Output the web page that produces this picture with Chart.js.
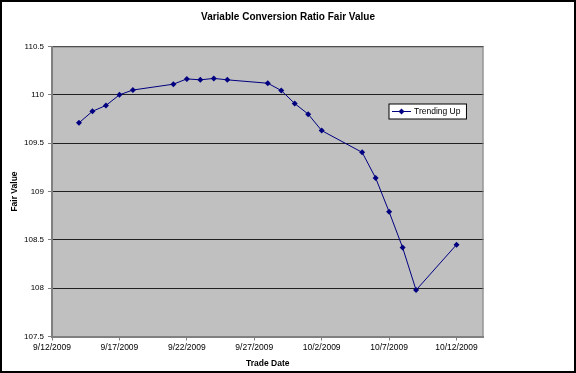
<!DOCTYPE html>
<html>
<head>
<meta charset="utf-8">
<script src="https://cdn.jsdelivr.net/npm/chart.js@4.4.0/dist/chart.umd.min.js"></script>
<style>
  html, body { margin: 0; padding: 0; background: #fff; }
</style>
</head>
<body>
<canvas id="chart" width="576" height="373"></canvas>
<script>
// values
const tradeDates = ['9/14/2009', '9/15/2009', '9/16/2009', '9/17/2009', '9/18/2009',
  '9/21/2009', '9/22/2009', '9/23/2009', '9/24/2009', '9/25/2009',
  '9/28/2009', '9/29/2009', '9/30/2009', '10/1/2009', '10/2/2009',
  '10/5/2009', '10/6/2009', '10/7/2009', '10/8/2009', '10/9/2009', '10/12/2009'];
const fairValues = [109.71, 109.83, 109.89, 110.0, 110.05,
  110.11, 110.165, 110.155, 110.17, 110.155,
  110.12, 110.045, 109.91, 109.8, 109.63,
  109.405, 109.14, 108.79, 108.42, 107.98, 108.45];
const seriesName = 'Trending Up';
const axisStart = '9/12/2009';
const axisEnd = '10/14/2009';
const yMin = 107.5, yMax = 110.5, yStep = 0.5;

const DAY = 86400000;
const FONT = '"Liberation Sans", Arial, sans-serif';
function toUtc(s) {
  const [m, d, y] = s.split('/').map(Number);
  return Date.UTC(y, m - 1, d);
}
const base = toUtc(axisStart);
function dayOffset(s) { return Math.round((toUtc(s) - base) / DAY); }
function fmtDay(v) {
  const d = new Date(base + v * DAY);
  return (d.getUTCMonth() + 1) + '/' + d.getUTCDate() + '/' + d.getUTCFullYear();
}

const points = tradeDates.map((d, i) => ({ x: dayOffset(d), y: fairValues[i] }));

const plotBg = {
  id: 'plotBg',
  beforeDraw(chart) {
    const { ctx, chartArea: a } = chart;
    ctx.save();
    ctx.fillStyle = '#ffffff';
    ctx.fillRect(0, 0, chart.width, chart.height);
    ctx.fillStyle = '#c0c0c0';
    ctx.fillRect(a.left, a.top, a.right - a.left, a.bottom - a.top);
    ctx.restore();
  },
  afterDraw(chart) {
    const { ctx, chartArea: a } = chart;
    ctx.save();
    // plot frame (top + right)
    ctx.strokeStyle = '#808080';
    ctx.lineWidth = 1;
    ctx.beginPath();
    ctx.moveTo(a.left, a.top + 0.5);
    ctx.lineTo(a.right - 0.5, a.top + 0.5);
    ctx.lineTo(a.right - 0.5, a.bottom);
    ctx.stroke();

    // legend box
    const ds = chart.data.datasets[0];
    ctx.font = '8.5px ' + FONT;
    const tw = ctx.measureText(ds.label).width;
    const lx = a.right - 94.5, ly = a.top + 57.5;
    const lw = 26 + tw + 5, lh = 15;
    ctx.fillStyle = '#ffffff';
    ctx.fillRect(lx, ly, lw, lh);
    ctx.strokeStyle = '#000000';
    ctx.strokeRect(lx, ly, lw, lh);
    ctx.strokeStyle = ds.borderColor;
    ctx.beginPath();
    ctx.moveTo(lx + 3, ly + lh / 2);
    ctx.lineTo(lx + 22, ly + lh / 2);
    ctx.stroke();
    const cx = lx + 12.5, cy = ly + lh / 2;
    ctx.fillStyle = ds.pointBackgroundColor;
    ctx.beginPath();
    ctx.moveTo(cx, cy - 3); ctx.lineTo(cx + 3, cy); ctx.lineTo(cx, cy + 3); ctx.lineTo(cx - 3, cy);
    ctx.closePath();
    ctx.fill();
    ctx.fillStyle = '#000000';
    ctx.textBaseline = 'middle';
    ctx.fillText(ds.label, lx + 25, cy + 0.5);

    // outer frame
    ctx.strokeStyle = '#000000';
    ctx.lineWidth = 2;
    ctx.strokeRect(1, 1, chart.width - 2, chart.height - 2);
    ctx.restore();
  }
};

const ctx = document.getElementById('chart').getContext('2d');
new Chart(ctx, {
  type: 'line',
  data: {
    datasets: [{
      label: seriesName,
      data: points,
      borderColor: '#000080',
      borderWidth: 1,
      pointStyle: 'rectRot',
      pointRadius: 3,
      pointBackgroundColor: '#000080',
      pointBorderColor: '#000080',
      pointBorderWidth: 0,
      tension: 0,
    }],
  },
  options: {
    responsive: false,
    animation: false,
    layout: { padding: 0 },
    plugins: {
      legend: { display: false },
      tooltip: { enabled: false },
      title: {
        display: true,
        text: 'Variable Conversion Ratio Fair Value',
        color: '#000000',
        font: { family: FONT, size: 10, weight: 'bold' },
        padding: { top: 11, bottom: 23.5 },
      },
    },
    scales: {
      x: {
        type: 'linear',
        min: 0,
        max: dayOffset(axisEnd),
        afterBuildTicks(scale) {
          scale.ticks = scale.ticks.filter(t => t.value % 5 === 0);
        },
        afterFit(scale) { scale.height = 36.5; },
        ticks: {
          stepSize: 5,
          autoSkip: false,
          maxRotation: 0,
          padding: 2,
          color: '#000000',
          font: { family: FONT, size: 8.5 },
          callback: v => fmtDay(v),
        },
        grid: { drawOnChartArea: false, drawTicks: true, tickLength: 4, tickColor: '#808080' },
        border: { color: '#808080', width: 2 },
        title: {
          display: true,
          text: 'Trade Date',
          color: '#000000',
          font: { family: FONT, size: 8.5, weight: 'bold' },
          padding: { top: 0, bottom: 4 },
        },
      },
      y: {
        min: yMin,
        max: yMax,
        afterFit(scale) { scale.width = 52; },
        ticks: {
          stepSize: yStep,
          padding: 4,
          color: '#000000',
          font: { family: FONT, size: 8 },
          callback: v => String(Math.round(v * 10) / 10),
        },
        grid: { color: '#202020', lineWidth: 1, drawTicks: true, tickLength: 4, tickColor: '#808080' },
        border: { color: '#808080', width: 2 },
        title: {
          display: true,
          text: 'Fair Value',
          color: '#000000',
          font: { family: FONT, size: 8.5, weight: 'bold' },
          padding: { top: 10, bottom: 0 },
        },
      },
      // empty right-hand strip (space beside the plot, as in the original)
      spacer: {
        type: 'linear',
        position: 'right',
        display: true,
        afterFit(scale) { scale.width = 92.5; },
        ticks: { display: false },
        grid: { display: false, drawTicks: false },
        border: { display: false },
      },
    },
  },
  plugins: [plotBg],
});
</script>
</body>
</html>
